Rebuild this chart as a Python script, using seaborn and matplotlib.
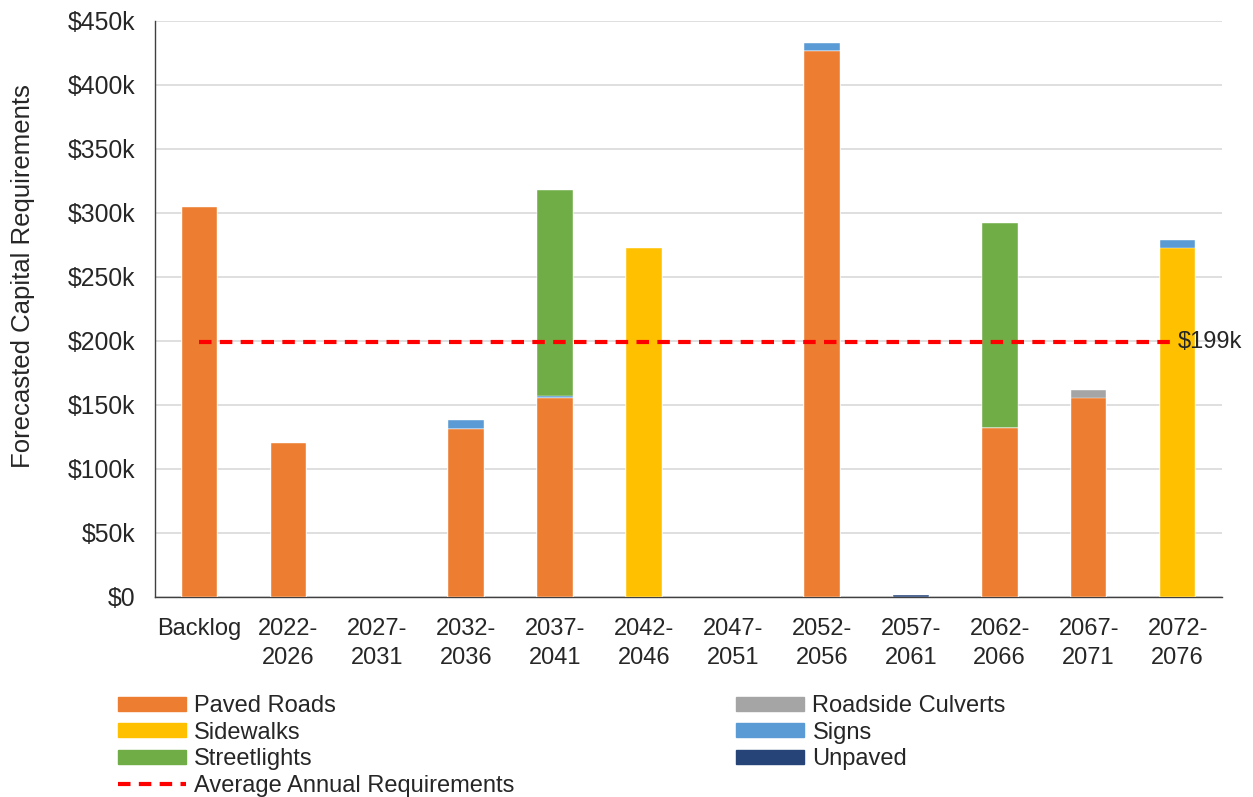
import numpy as np
import pandas as pd
import matplotlib
matplotlib.use("Agg")
import matplotlib.pyplot as plt
import seaborn as sns
from matplotlib.patches import Patch
from matplotlib.lines import Line2D

# Periods and capital requirements ($k) per asset category
periods = ["Backlog", "2022-\n2026", "2027-\n2031", "2032-\n2036", "2037-\n2041", "2042-\n2046",
           "2047-\n2051", "2052-\n2056", "2057-\n2061", "2062-\n2066", "2067-\n2071", "2072-\n2076"]
paved_roads = [305, 120, 0, 131, 155.5, 0, 0, 426.5, 0, 132, 155.5, 0]
roadside_culverts = [0, 0, 0, 0, 0, 0, 0, 0, 0, 0, 6, 0]
sidewalks = [0, 0, 0, 0, 0, 272.5, 0, 0, 0, 0, 0, 272.5]
signs = [0, 0, 0, 7, 1.5, 0, 0, 6.5, 0, 0, 0, 6.5]
streetlights = [0, 0, 0, 0, 161, 0, 0, 0, 0, 160, 0, 0]
unpaved = [0, 0, 0, 0, 0, 0, 0, 0, 1.2, 0, 0, 0]
avg_annual = 199

series = {
    "Paved Roads": paved_roads,
    "Roadside Culverts": roadside_culverts,
    "Sidewalks": sidewalks,
    "Signs": signs,
    "Streetlights": streetlights,
    "Unpaved": unpaved,
}
colors = {
    "Paved Roads": "#ED7D31",
    "Roadside Culverts": "#A5A5A5",
    "Sidewalks": "#FFC000",
    "Signs": "#5B9BD5",
    "Streetlights": "#70AD47",
    "Unpaved": "#264478",
}

df = pd.DataFrame(series)
df["period"] = periods
cum = df[list(series)].cumsum(axis=1)
cum = cum.where(cum > 0)  # skip empty bars

sns.set_style("white")
plt.rcParams["font.family"] = ["Liberation Sans", "DejaVu Sans"]
fs = 17

fig = plt.figure(figsize=(12.53, 7.97), dpi=100)
ax = fig.add_axes([0.1237, 0.251, 0.8516, 0.7227])

# stacked bars: draw cumulative totals from the top layer down
for name in reversed(list(series)):
    sns.barplot(x=df["period"], y=cum[name], color=colors[name], width=0.4,
                edgecolor="white", linewidth=0.3, saturation=1, ax=ax, zorder=3)

x_pos = np.arange(len(periods))
sns.lineplot(x=x_pos, y=[avg_annual] * len(periods), color="#FF0000", lw=3,
             linestyle=(0, (3, 2)), ax=ax, zorder=4)
ax.text(len(periods) - 1, avg_annual, "$199k", fontsize=fs, va="center", ha="left", zorder=5)

ax.set_xlim(-0.5, len(periods) - 0.5)
ax.set_ylim(0, 450)
ax.set_yticks(np.arange(0, 451, 50))
ax.set_yticklabels(["$0"] + [f"${v}k" for v in range(50, 451, 50)], fontsize=17.8)
ax.yaxis.grid(True, color="#D9D9D9", lw=1.2, zorder=0)
ax.set_axisbelow(True)

ax.set_xticks(x_pos)
ax.set_xticklabels(periods, fontsize=fs, linespacing=1.45)
ax.tick_params(axis="x", length=0, pad=15)
ax.set_xticks(np.arange(-0.5, len(periods)), minor=True)
ax.tick_params(axis="x", which="minor", length=8, color="#333333", direction="out")
ax.tick_params(axis="y", length=5, color="#333333", direction="out", pad=9)

ax.set_xlabel("")
ax.set_ylabel("Forecasted Capital Requirements", fontsize=18.5, va="center")
ax.yaxis.set_label_coords(-0.1237, 0.557)

for s in ["top", "right"]:
    ax.spines[s].set_visible(False)
for s in ["left", "bottom"]:
    ax.spines[s].set_color("#404040")
    ax.spines[s].set_linewidth(1)

handles = [Patch(color=colors["Paved Roads"]), Patch(color=colors["Sidewalks"]),
           Patch(color=colors["Streetlights"]),
           Line2D([], [], color="#FF0000", lw=3, linestyle=(0, (3, 2))),
           Patch(color=colors["Roadside Culverts"]), Patch(color=colors["Signs"]),
           Patch(color=colors["Unpaved"])]
labels = ["Paved Roads", "Sidewalks", "Streetlights", "Average Annual Requirements",
          "Roadside Culverts", "Signs", "Unpaved"]
fig.legend(handles, labels, ncol=2, loc="upper left", bbox_to_anchor=(0.094, 0.128),
           frameon=False, fontsize=fs, handlelength=2.9, handleheight=0.55,
           handletextpad=0.34, labelspacing=0.2, columnspacing=9.37,
           borderaxespad=0, borderpad=0)

fig.savefig("out.png", dpi=100)
